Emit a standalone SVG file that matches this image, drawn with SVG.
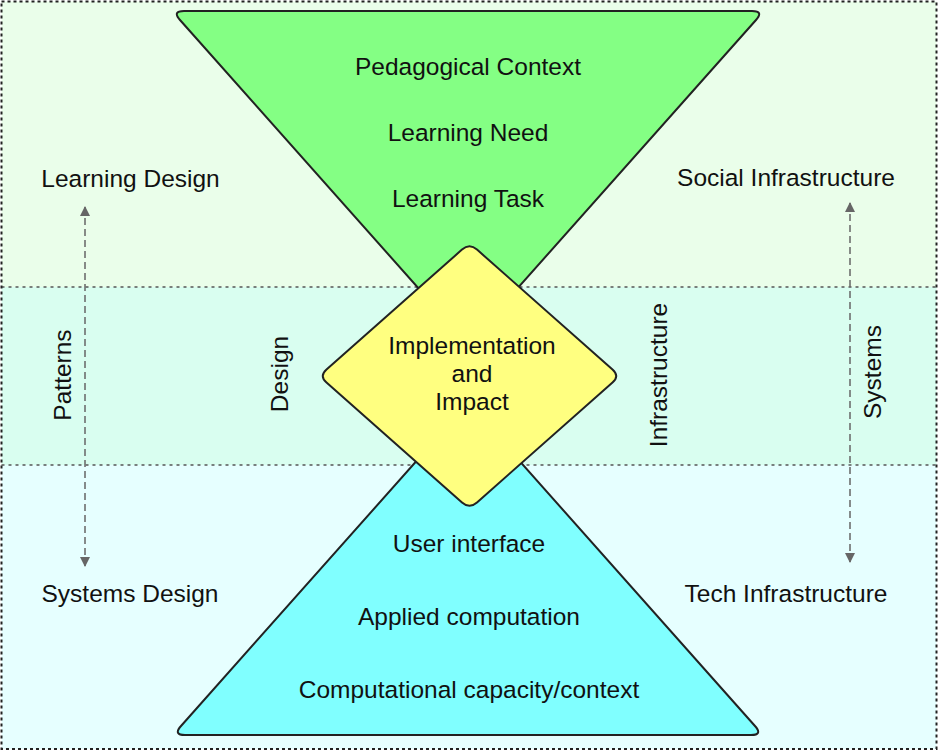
<svg xmlns="http://www.w3.org/2000/svg" width="939" height="753" viewBox="0 0 939 753">
<style>
  .t { font-family: "Liberation Sans", Arial, sans-serif; font-size: 24.5px; fill: #111; text-anchor: middle; }
  .sep { stroke: #555; stroke-width: 1.5; stroke-dasharray: 3 4; fill: none; }
  .shape { stroke: #222; stroke-width: 2; stroke-linejoin: round; }
  .arr { stroke: #666; stroke-width: 1.5; stroke-dasharray: 7 4; fill: none; }
</style>
<defs>
  <marker id="ah" viewBox="0 0 10 10" refX="9" refY="5" markerWidth="10" markerHeight="10" markerUnits="userSpaceOnUse" orient="auto-start-reverse">
    <path d="M0,0 L10,5 L0,10 Z" fill="#666"/>
  </marker>
</defs>
<g id="background">
  <rect x="1.5" y="1.5" width="935" height="285.5" fill="#EAFEEA"/>
  <rect x="1.5" y="287" width="935" height="178" fill="#D9FEF0"/>
  <rect x="1.5" y="465" width="935" height="284" fill="#E6FFFF"/>
  <line class="sep" x1="1.5" y1="287" x2="937" y2="287"/>
  <line class="sep" x1="1.5" y1="465" x2="937" y2="465"/>
  <rect x="1.5" y="1.5" width="935" height="747.5" fill="none" stroke="#222" stroke-width="2" stroke-dasharray="3 3"/>
</g>
<g id="connectors">
  <line class="arr" x1="85" y1="207" x2="85" y2="566" marker-start="url(#ah)" marker-end="url(#ah)"/>
  <line class="arr" x1="850" y1="203" x2="850" y2="562" marker-start="url(#ah)" marker-end="url(#ah)"/>
</g>
<g id="top-triangle">
  <path class="shape" fill="#84FF84" d="M180,20 Q172,11 184,11 L752,11 Q764,11 756,20 L468,344 Z"/>
  <text class="t" x="468" y="75">Pedagogical Context</text>
  <text class="t" x="468" y="141">Learning Need</text>
  <text class="t" x="468" y="207">Learning Task</text>
</g>
<g id="bottom-triangle">
  <path class="shape" fill="#80FFFF" d="M468,403 L181,726 Q173,735 185,735 L751,735 Q763,735 755,726 Z"/>
  <text class="t" x="469" y="552">User interface</text>
  <text class="t" x="469" y="625">Applied computation</text>
  <text class="t" x="469" y="698">Computational capacity/context</text>
</g>
<g id="diamond">
  <path class="shape" fill="#FFFF80" stroke-width="1.5" d="M477,249.6 L612.5,369.4 Q620,376 612.5,382.6 L477,502.4 Q469.5,509 462,502.4 L326.5,382.6 Q319,376 326.5,369.4 L462,249.6 Q469.5,243 477,249.6 Z"/>
  <text class="t" x="472" y="354">Implementation</text>
  <text class="t" x="472" y="382">and</text>
  <text class="t" x="472" y="410">Impact</text>
</g>
<g id="learning-design"><text class="t" x="130.5" y="187">Learning Design</text></g>
<g id="social-infrastructure"><text class="t" x="786" y="186">Social Infrastructure</text></g>
<g id="systems-design"><text class="t" x="130" y="602">Systems Design</text></g>
<g id="tech-infrastructure"><text class="t" x="786" y="602">Tech Infrastructure</text></g>
<g id="patterns"><text class="t" transform="translate(71,375) rotate(-90)" x="0" y="0">Patterns</text></g>
<g id="design"><text class="t" transform="translate(288,374) rotate(-90)" x="0" y="0">Design</text></g>
<g id="infrastructure"><text class="t" transform="translate(667,375) rotate(-90)" x="0" y="0">Infrastructure</text></g>
<g id="systems"><text class="t" transform="translate(881,372) rotate(-90)" x="0" y="0">Systems</text></g>
</svg>
